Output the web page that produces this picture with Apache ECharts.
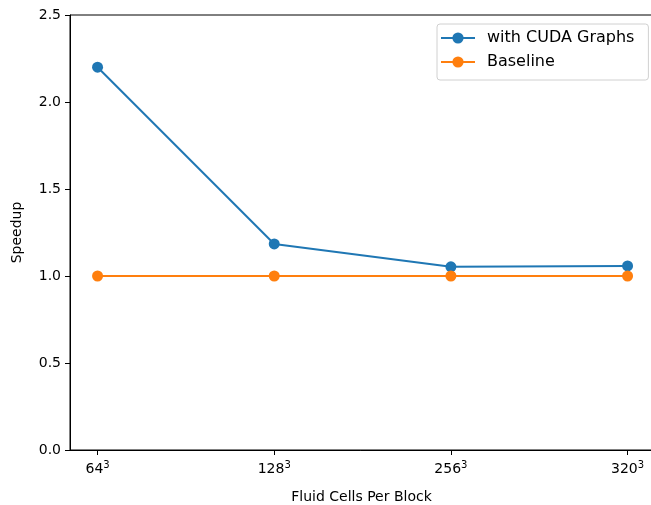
<!DOCTYPE html>
<html><head><meta charset="utf-8">
<script src="https://cdn.jsdelivr.net/npm/echarts@6/dist/echarts.min.js"></script>
<style>html,body{margin:0;padding:0;background:#fff}#c{width:651px;height:505px}</style>
</head><body><div id="c"></div>
<script>
var categories = ['64', '128', '256', '320'];
var exponent = '3';
var cudaGraphs = [2.20, 1.184, 1.053, 1.058];
var baseline = [1.0, 1.0, 1.0, 1.0];

var font = 'DejaVu Sans';
function pts(arr){ return arr.map(function(v,i){ return [i, v]; }); }
var chart = echarts.init(document.getElementById('c'), null, {renderer:'canvas'});
chart.setOption({
  animation: false,
  backgroundColor: '#fff',
  textStyle: {fontFamily: font},
  grid: {left: 70, top: 15, width: 583, height: 435, show: true, borderColor: '#000', borderWidth: 1,
         containLabel: false, outerBoundsMode: 'none'},
  legend: {
    orient: 'vertical', left: 437, top: 24,
    backgroundColor: '#fff', borderColor: '#d0d0d0', borderWidth: 1, borderRadius: 3,
    padding: [6, 14, 10, 3], itemGap: 8, itemWidth: 34, itemHeight: 14,
    textStyle: {fontFamily: font, fontSize: 16, color: '#000', padding: [0,0,0,7]},
    data: ['with CUDA Graphs', 'Baseline']
  },
  xAxis: {
    type: 'value', min: -0.156, max: 3.144,
    name: 'Fluid Cells Per Block', nameLocation: 'middle', nameGap: 40,
    nameTextStyle: {fontFamily: font, fontSize: 14, color: '#000'},
    axisLine: {show: true, onZero: false, lineStyle: {color: '#000', width: 1}},
    axisTick: {show: true, length: 5, customValues: [0,1,2,3], lineStyle: {color: '#000'}},
    splitLine: {show: false},
    axisLabel: {
      customValues: [0,1,2,3], margin: 10, color: '#000',
      formatter: function(v){ var i = Math.round(v); return '{b|' + categories[i] + '}{s|' + exponent + '}'; },
      rich: {
        b: {fontFamily: font, fontSize: 14, color: '#000'},
        s: {fontFamily: font, fontSize: 10, color: '#000', padding: [0,0,9,0]}
      }
    }
  },
  yAxis: {
    type: 'value', min: 0, max: 2.5, interval: 0.5,
    name: 'Speedup', nameLocation: 'middle', nameGap: 46,
    nameTextStyle: {fontFamily: font, fontSize: 14, color: '#000'},
    axisLine: {show: true, onZero: false, lineStyle: {color: '#000', width: 1}},
    axisTick: {show: true, length: 5, lineStyle: {color: '#000'}},
    splitLine: {show: false},
    axisLabel: {margin: 9, color: '#000', fontFamily: font, fontSize: 14,
      formatter: function(v){ return v.toFixed(1); }}
  },
  series: [
    {name: 'with CUDA Graphs', type: 'line', data: pts(cudaGraphs), color: '#1f77b4',
     symbol: 'circle', symbolSize: 11, showAllSymbol: true, lineStyle: {width: 2}, itemStyle: {color: '#1f77b4'}},
    {name: 'Baseline', type: 'line', data: pts(baseline), color: '#ff7f0e',
     symbol: 'circle', symbolSize: 11, showAllSymbol: true, lineStyle: {width: 2}, itemStyle: {color: '#ff7f0e'}}
  ]
});
</script></body></html>
